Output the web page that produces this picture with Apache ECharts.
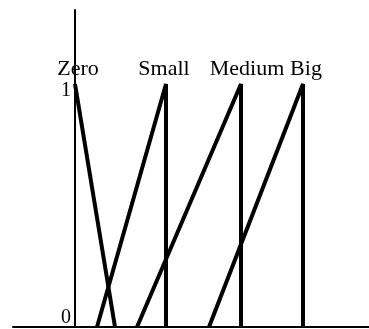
<!DOCTYPE html>
<html><head><meta charset="utf-8">
<script src="https://cdn.jsdelivr.net/npm/echarts@6/dist/echarts.min.js"></script>
<style>html,body{margin:0;padding:0;background:#fff}#c{width:369px;height:329px}</style>
</head><body><div id="c"></div>
<script>
// membership function sets: name, x values, membership values
const setNames = ['Zero', 'Small', 'Medium', 'Big'];
const zeroX = [0, 40];      const zeroY = [1, 0];
const smallX = [22, 91, 91]; const smallY = [0, 1, 0];
const mediumX = [62, 166, 166]; const mediumY = [0, 1, 0];
const bigX = [134, 228, 228]; const bigY = [0, 1, 0];
const yTicks = [0, 1];

const FONT = '"Liberation Serif", "Times New Roman", serif';
// label nudges expressed as padding [top, right, bottom, left]
const labelPads = [[0, 0, 0, 6], [0, 4, 0, 0], [0, 0, 0, 12], [0, 0, 0, 6]];
const peakIndex = [0, 1, 1, 1];
const sets = [[zeroX, zeroY], [smallX, smallY], [mediumX, mediumY], [bigX, bigY]];

const series = sets.map(([xs, ys], k) => ({
  type: 'line',
  name: setNames[k],
  symbol: 'circle',
  symbolSize: 0,
  showSymbol: true,
  showAllSymbol: true,
  animation: false,
  itemStyle: { color: '#000' },
  lineStyle: { color: '#000', width: 4 },
  labelLayout: { hideOverlap: false },
  data: xs.map((x, i) => {
    const d = { value: [x, ys[i]] };
    if (i === peakIndex[k]) {
      d.label = {
        show: true, position: 'top', distance: 4,
        padding: labelPads[k],
        formatter: setNames[k],
        color: '#000', fontFamily: FONT, fontSize: 22
      };
    }
    return d;
  }),
  label: { show: false }
}));

const chart = echarts.init(document.getElementById('c'), null, { renderer: 'canvas' });
chart.setOption({
  backgroundColor: '#fff',
  animation: false,
  grid: { left: 13, right: 0, top: 10, bottom: 2, containLabel: false, outerBoundsMode: 'none' },
  xAxis: {
    type: 'value', min: -62, max: 294,
    axisLine: { show: true, onZero: false, lineStyle: { color: '#000', width: 2 } },
    axisTick: { show: false }, axisLabel: { show: false }, splitLine: { show: false }
  },
  yAxis: {
    type: 'value', min: 0, max: 1.3045, interval: 1,
    offset: -62,
    axisLine: { show: true, onZero: false, lineStyle: { color: '#000', width: 2 } },
    axisTick: { show: false }, splitLine: { show: false },
    axisLabel: {
      show: true, showMaxLabel: false, margin: 4,
      fontFamily: FONT, fontSize: 20, color: '#000',
      formatter: v => yTicks.includes(v) ? (v === 0 ? '{b|0}' : '{a|1}') : '',
      rich: {
        a: { fontFamily: FONT, fontSize: 20, color: '#000', padding: [14, 0, 0, 0] },
        b: { fontFamily: FONT, fontSize: 20, color: '#000', padding: [0, 0, 18, 0] }
      }
    }
  },
  series: series
});
</script></body></html>
